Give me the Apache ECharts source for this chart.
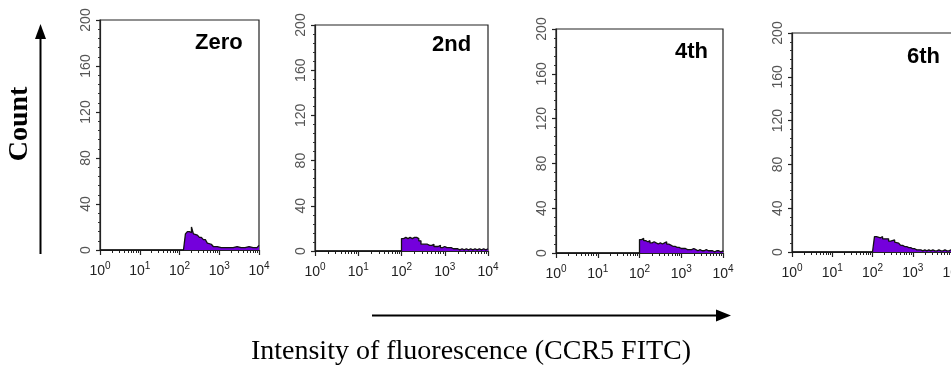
<!DOCTYPE html>
<html>
<head>
<meta charset="utf-8">
<script src="https://cdn.jsdelivr.net/npm/echarts@6/dist/echarts.min.js"></script>
<style>
    html, body { margin: 0; padding: 0; background: #fff; }
    #chart { width: 951px; height: 374px; }
</style>
</head>
<body>
<div id="chart"></div>
<script>
// histogram bins: fluorescence intensity, 10^2 .. 10^4 in 0.05-decade steps
var binIntensity = [100, 112, 126, 141, 158, 178, 200, 224, 251, 282,
    316, 355, 398, 447, 501, 562, 631, 708, 794, 891,
    1000, 1122, 1259, 1413, 1585, 1778, 1995, 2239, 2512, 2818,
    3162, 3548, 3981, 4467, 5012, 5623, 6310, 7079, 7943, 8913, 10000];

// cell counts per bin, one array per panel
var zeroCounts = [0, 0, 0, 14, 16, 15, 20, 14, 13, 12,
    11, 10, 9, 8, 6, 5, 4, 3, 3, 3,
    2, 3, 2, 3, 2, 3, 2, 2, 3, 2,
    2, 3, 2, 2, 3, 2, 2, 3, 2, 3, 4];
var secondCounts = [11, 12, 11, 12, 11, 12, 12, 11, 9, 6,
    6, 6, 5, 5, 6, 4, 4, 5, 3, 4,
    3, 3, 3, 2, 2, 2, 1, 2, 1, 2,
    1, 2, 1, 2, 1, 2, 1, 2, 1, 2, 2];
var fourthCounts = [12, 13, 11, 10, 11, 9, 10, 9, 8, 9,
    8, 9, 10, 8, 7, 6, 6, 5, 5, 4,
    4, 4, 3, 3, 3, 4, 3, 2, 3, 2,
    2, 3, 2, 2, 2, 1, 2, 2, 1, 2, 1];
var sixthCounts = [0, 14, 15, 13, 14, 12, 11, 12, 10, 11,
    11, 9, 8, 7, 6, 5, 5, 4, 4, 3,
    3, 2, 2, 2, 1, 2, 1, 2, 1, 2,
    1, 1, 2, 1, 1, 2, 1, 1, 2, 1, 1];

var panelNames = ['Zero', '2nd', '4th', '6th'];
var countTicks = [0, 40, 80, 120, 160, 200];
var decadeTicks = [1, 10, 100, 1000, 10000];
var logMinorTicks = [2, 3, 4, 5, 6, 7, 8, 9,
    20, 30, 40, 50, 60, 70, 80, 90,
    200, 300, 400, 500, 600, 700, 800, 900,
    2000, 3000, 4000, 5000, 6000, 7000, 8000, 9000];

var yTitle = 'Count';
var xTitle = 'Intensity of fluorescence (CCR5 FITC)';

var allCounts = [zeroCounts, secondCounts, fourthCounts, sixthCounts];

// plot boxes as they sit in the figure
var boxes = [
    { left: 100, top: 20, width: 159, height: 230, lx: 195, ly: 43 },
    { left: 315, top: 25, width: 173, height: 226, lx: 432, ly: 45 },
    { left: 556, top: 29, width: 167, height: 224, lx: 675, ly: 52 },
    { left: 792, top: 33, width: 161, height: 219, lx: 907, ly: 57 }
];

var tickFont = "'Liberation Sans Narrow', 'Liberation Sans', Arial, sans-serif";
var purple = '#7400dc';

var chart = echarts.init(document.getElementById('chart'));

var grids = [], xAxes = [], yAxes = [], series = [], graphics = [];

boxes.forEach(function (b, i) {
    grids.push({
        left: b.left, top: b.top, width: b.width, height: b.height,
        show: true, borderColor: '#222', borderWidth: 1.2,
        outerBoundsMode: 'none', containLabel: false
    });
    // main decade axis
    xAxes.push({
        type: 'log', logBase: 10, gridIndex: i, position: 'bottom',
        min: decadeTicks[0], max: decadeTicks[decadeTicks.length - 1],
        axisLine: { show: true, lineStyle: { color: '#222', width: 1.2 } },
        axisTick: { show: true, inside: false, length: 5, customValues: decadeTicks,
            lineStyle: { color: '#222', width: 1.2 } },
        splitLine: { show: false },
        axisLabel: {
            customValues: decadeTicks,
            margin: 11,
            formatter: function (v) {
                var e = Math.round(Math.log(v) / Math.LN10);
                return '{b|10}{s|' + e + '}';
            },
            rich: {
                b: { fontSize: 14, fontFamily: tickFont, color: '#222' },
                s: { fontSize: 10, fontFamily: tickFont, color: '#222', padding: [0, 0, 10, 0] }
            }
        }
    });
    // minor log ticks
    xAxes.push({
        type: 'log', logBase: 10, gridIndex: i, position: 'bottom', offset: 0,
        min: decadeTicks[0], max: decadeTicks[decadeTicks.length - 1],
        axisLine: { show: false },
        axisTick: { show: true, inside: false, length: 3, customValues: logMinorTicks,
            lineStyle: { color: '#222', width: 1 } },
        axisLabel: { show: false },
        splitLine: { show: false }
    });
    yAxes.push({
        type: 'value', gridIndex: i,
        min: countTicks[0], max: countTicks[countTicks.length - 1], interval: 40,
        axisLine: { show: true, lineStyle: { color: '#222', width: 1.2 } },
        axisTick: { show: true, length: 4, lineStyle: { color: '#222', width: 1.2 } },
        minorTick: { show: true, splitNumber: 5, length: 2, lineStyle: { color: '#333' } },
        splitLine: { show: false },
        axisLabel: { rotate: 90, fontSize: 14, fontFamily: tickFont, color: '#555', margin: 7 }
    });

    var pts = [[1, 0]];
    binIntensity.forEach(function (x, k) {
        pts.push([x, allCounts[i][k]]);
    });
    series.push({
        type: 'line', xAxisIndex: i * 2, yAxisIndex: i,
        data: pts, step: 'end', symbol: 'none', silent: true,
        lineStyle: { color: '#111', width: 1.3 },
        areaStyle: { color: purple, opacity: 1 }
    });

    graphics.push({
        type: 'text', x: b.lx, y: b.ly,
        style: { text: panelNames[i], font: 'bold 22px "Liberation Sans", Arial, sans-serif',
            fill: '#000', align: 'left', verticalAlign: 'middle',
            textAlign: 'left', textVerticalAlign: 'middle' }
    });
});

// count arrow and label, intensity arrow and label
graphics.push(
    { type: 'line', shape: { x1: 40.5, y1: 254, x2: 40.5, y2: 36 }, style: { stroke: '#000', lineWidth: 2 } },
    { type: 'polygon', shape: { points: [[35, 39], [46, 39], [40.5, 24]] }, style: { fill: '#000' } },
    { type: 'text', x: 20, y: 124, rotation: Math.PI / 2,
      style: { text: yTitle, font: 'bold 28px "Liberation Serif", "Times New Roman", serif', fill: '#000',
          align: 'center', verticalAlign: 'middle', textAlign: 'center', textVerticalAlign: 'middle' } },
    { type: 'line', shape: { x1: 372, y1: 315.5, x2: 718, y2: 315.5 }, style: { stroke: '#000', lineWidth: 2 } },
    { type: 'polygon', shape: { points: [[716, 309.5], [716, 321.5], [731, 315.5]] }, style: { fill: '#000' } },
    { type: 'text', x: 471, y: 352,
      style: { text: xTitle, font: '28px "Liberation Serif", "Times New Roman", serif', fill: '#000',
          align: 'center', verticalAlign: 'middle', textAlign: 'center', textVerticalAlign: 'middle' } }
);

var option = {
    animation: false,
    backgroundColor: '#fff',
    grid: grids,
    xAxis: xAxes,
    yAxis: yAxes,
    series: series,
    graphic: graphics
};
chart.setOption(option);
</script>
</body>
</html>
